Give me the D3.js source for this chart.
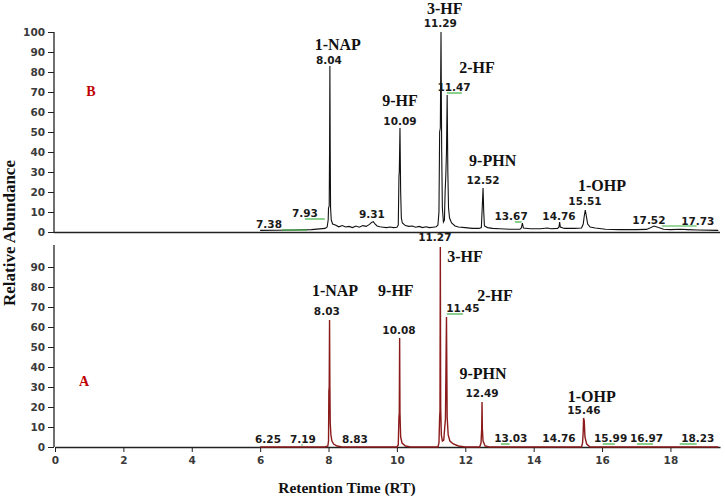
<!DOCTYPE html>
<html>
<head>
<meta charset="utf-8">
<script src="https://cdn.jsdelivr.net/npm/d3@7"></script>
<style>
  body { margin: 0; background: #fff; }
  .tick text { font-family: "DejaVu Sans", sans-serif; font-size: 10.5px; font-weight: bold; fill: #3a3a3a; }
  .axis path, .axis line { stroke: #222; }
</style>
</head>
<body>
<div id="chart"></div>
<script>
var svgWidth = 725;
var svgHeight = 499;

// x axis tick labels and y tick labels
var xTickLabels = [0, 2, 4, 6, 8, 10, 12, 14, 16, 18];
var yTicksTop = [0, 10, 20, 30, 40, 50, 60, 70, 80, 90, 100];
var yTicksBottom = [0, 10, 20, 30, 40, 50, 60, 70, 80, 90];

// trace B (top), [retention time, relative abundance]
var traceB = [
  [6.0,0.8],[6.5,0.9],[7.0,1.0],[7.5,1.2],[7.9,1.8],[7.96,2.5],[7.99,6],[8.0,12],[8.02,13],
  [8.03,40],[8.04,83],[8.05,40],[8.06,12],[8.08,6],[8.12,4],[8.2,3.5],[8.3,2.6],[8.4,3.2],
  [8.5,2.5],[8.6,2.8],[8.7,2.2],[8.8,3],[8.9,2.4],[9.0,3.2],[9.1,2.8],[9.2,3.8],[9.26,4.8],
  [9.31,5.2],[9.36,4],[9.42,3],[9.5,2.6],[9.6,2.4],[9.7,2.2],[9.8,2.5],[9.9,2.2],[10.0,2.4],
  [10.04,3.5],[10.06,28],[10.07,30],[10.09,52],[10.11,20],[10.13,7],[10.16,4.5],[10.25,3.2],
  [10.35,2.8],[10.45,3],[10.55,2.4],[10.65,2.8],[10.75,2.2],[10.85,2.6],[10.95,2.2],[11.05,2.4],
  [11.15,2.6],[11.2,3.5],[11.23,10],[11.25,50],[11.27,52],[11.29,100],[11.31,40],[11.33,12],
  [11.36,5],[11.39,6],[11.41,20],[11.43,28],[11.45,40],[11.47,68.5],[11.49,30],[11.51,12],
  [11.54,7],[11.6,4.5],[11.7,3],[11.8,2.5],[12.0,2.2],[12.2,1.8],[12.4,1.8],[12.47,2.2],
  [12.49,10],[12.5,14],[12.52,22],[12.54,10],[12.56,3],[12.65,2.2],[12.8,1.8],[13.0,1.6],
  [13.3,1.4],[13.6,1.4],[13.64,2],[13.67,4.5],[13.7,2],[13.9,1.6],[14.2,1.6],[14.4,2],
  [14.5,1.6],[14.7,1.8],[14.74,2.5],[14.76,5],[14.78,2.5],[14.9,1.8],[15.2,1.8],[15.4,2],
  [15.45,4],[15.48,8],[15.51,11],[15.54,8],[15.58,4],[15.65,2.5],[15.8,2],[16.1,1.4],
  [16.5,1.2],[17.0,1.2],[17.3,1.3],[17.4,2],[17.52,3],[17.65,2.2],[17.8,1.4],[18.0,1.2],
  [18.3,1.4],[18.5,1.2],[18.8,1],[19.4,0.8]
];

// trace A (bottom)
var traceA = [
  [6.0,0],[7.9,0],[7.98,0.5],[8.0,3],[8.01,28],[8.02,30],[8.03,63.5],[8.04,30],[8.05,12],
  [8.07,6],[8.1,3],[8.15,1.5],[8.25,0.5],[8.4,0],[10.0,0],[10.04,1],[10.06,15],[10.07,17],
  [10.08,54.5],[10.09,17],[10.11,5],[10.15,2],[10.25,0.5],[10.4,0],[11.2,0],[11.23,2],
  [11.25,15],[11.26,18],[11.27,100],[11.28,20],[11.3,6],[11.33,3],[11.37,3.5],[11.4,10],
  [11.42,14],[11.45,65],[11.47,15],[11.5,6],[11.55,3],[11.65,1.5],[11.8,0.5],[12.0,0],
  [12.42,0],[12.46,2],[12.48,9],[12.49,22.5],[12.5,9],[12.52,3],[12.58,0.5],[12.7,0],
  [15.4,0],[15.43,2],[15.45,8],[15.46,14.5],[15.48,13],[15.5,5],[15.55,1.5],[15.65,0],[19.4,0]
];

// retention time labels: text, rt, abundance where the label sits
var rtLabelsB = [
  ["7.38",6.26,3.5],["7.93",7.31,9],["8.04",8.01,85.5],["9.31",9.27,8.5],["10.09",10.09,55],
  ["11.29",11.27,104],["11.47",11.67,72],["12.52",12.52,25.5],["13.67",13.34,7.5],
  ["14.76",14.74,7.5],["15.51",15.5,15],["17.52",17.37,5.6],["17.73",18.8,5]
];
var rtLabelsA = [
  ["6.25",6.23,3.5],["7.19",7.25,3.5],["8.03",7.95,67.5],["8.83",8.77,3.5],["10.08",10.06,58],
  ["11.27",11.11,104.5],["11.45",11.93,69],["12.49",12.49,26.5],["13.03",13.33,4],
  ["14.76",14.74,4],["15.46",15.47,18],["15.99",16.25,4],["16.97",17.3,4],["18.23",18.8,4]
];

// compound names
var compoundsB = [
  ["1-NAP",8.27,93],["9-HF",10.09,65],["3-HF",11.4,111],["2-HF",12.34,81.5],
  ["9-PHN",12.8,35],["1-OHP",16.0,22.5]
];
var compoundsA = [
  ["1-NAP",8.19,77.5],["9-HF",9.97,77.5],["3-HF",11.99,94.5],["2-HF",12.87,75],
  ["9-PHN",12.52,36],["1-OHP",15.7,24.5]
];

// green integration marks: rt start, rt end, abundance
var marksB = [[6.64,7.37,1],[7.31,7.89,6.5],[11.46,11.9,69.5],[13.45,13.65,5],[17.75,18.77,3]];
var marksA = [[11.46,11.93,66.5],[13.04,13.3,1.5],[16.02,16.37,1.5],[17.02,17.49,1.5],[18.27,18.77,1.5],[7.2,7.25,1]];

var svg = d3.select("#chart")
  .append("svg")
  .attr("width", svgWidth)
  .attr("height", svgHeight);

var x = d3.scaleLinear().domain([0, 19.45]).range([55, 720]);
var yTop = d3.scaleLinear().domain([0, 100]).range([232, 32]);
var yBot = d3.scaleLinear().domain([0, 100]).range([447, 247]);

// y axes
function drawY(scale, majors, minorMax, top) {
  var g = svg.append("g").attr("class", "axis").attr("transform", "translate(54,0)");
  g.call(d3.axisLeft(scale).tickValues(d3.range(0, minorMax + 1, 2)).tickSize(4).tickFormat("").tickSizeOuter(0));
  g.call(d3.axisLeft(scale).tickValues(majors).tickSize(6).tickPadding(3).tickSizeOuter(0));
  g.select(".domain").remove();
  g.append("line").attr("x1", 0).attr("x2", 0)
    .attr("y1", scale(0)).attr("y2", top).attr("stroke", "#222").attr("stroke-width", 1.3);
}
drawY(yTop, yTicksTop, 100, 32);
drawY(yBot, yTicksBottom, 98, 245);

// top baseline
svg.append("line")
  .attr("x1", 54).attr("x2", x(19.45))
  .attr("y1", yTop(0) + 0.5).attr("y2", yTop(0) + 0.5)
  .attr("stroke", "#222").attr("stroke-width", 1.5);

// bottom x axis
var xg = svg.append("g").attr("class", "axis").attr("transform", `translate(0, ${yBot(0)})`);
xg.call(d3.axisBottom(x).tickValues(d3.range(0, 19.5, 0.5)).tickSize(4).tickFormat("").tickSizeOuter(0));
xg.call(d3.axisBottom(x).tickValues(xTickLabels).tickSize(5).tickPadding(5).tickFormat(d3.format("d")).tickSizeOuter(0));
xg.select(".domain").attr("stroke-width", 1.5);

// traces
var lineTop = d3.line().x(d => x(d[0])).y(d => yTop(d[1]));
var lineBot = d3.line().x(d => x(d[0])).y(d => yBot(d[1]));

svg.append("path").datum(traceB).attr("d", lineTop)
  .attr("fill", "none").attr("stroke", "#111").attr("stroke-width", 1.1);
svg.append("path").datum(traceA).attr("d", lineBot)
  .attr("fill", "none").attr("stroke", "#8b1a1a").attr("stroke-width", 1.4);

// green marks
function drawMarks(data, scale) {
  svg.append("g").selectAll("line").data(data).enter().append("line")
    .attr("x1", d => x(d[0])).attr("x2", d => x(d[1]))
    .attr("y1", d => scale(d[2])).attr("y2", d => scale(d[2]))
    .attr("stroke", "#3cb043").attr("stroke-width", 1.2);
}
drawMarks(marksB, yTop);
drawMarks(marksA, yBot);

// rt labels
function drawRt(data, scale) {
  svg.append("g").selectAll("text").data(data).enter().append("text")
    .attr("x", d => x(d[1])).attr("y", d => scale(d[2]))
    .attr("text-anchor", "middle").attr("dominant-baseline", "middle")
    .attr("font-family", "DejaVu Sans, sans-serif").attr("font-weight", "bold")
    .attr("font-size", "10.5px").attr("fill", "#1a1a1a")
    .text(d => d[0]);
}
drawRt(rtLabelsB, yTop);
drawRt(rtLabelsA, yBot);

// compound names
function drawNames(data, scale) {
  svg.append("g").selectAll("text").data(data).enter().append("text")
    .attr("x", d => x(d[1])).attr("y", d => scale(d[2]))
    .attr("text-anchor", "middle").attr("dominant-baseline", "middle")
    .attr("font-family", "Liberation Serif, serif").attr("font-weight", "bold")
    .attr("font-size", "16px").attr("fill", "#111")
    .text(d => d[0]);
}
drawNames(compoundsB, yTop);
drawNames(compoundsA, yBot);

// panel letters
svg.append("text").attr("x", x(1.05)).attr("y", yTop(69.5))
  .attr("text-anchor", "middle").attr("dominant-baseline", "middle")
  .attr("font-family", "Liberation Serif, serif").attr("font-weight", "bold")
  .attr("font-size", "14px").attr("fill", "#c00000").text("B");
svg.append("text").attr("x", x(0.85)).attr("y", yBot(32))
  .attr("text-anchor", "middle").attr("dominant-baseline", "middle")
  .attr("font-family", "Liberation Serif, serif").attr("font-weight", "bold")
  .attr("font-size", "14px").attr("fill", "#c00000").text("A");

// axis titles
svg.append("text")
  .attr("x", 347).attr("y", 489)
  .attr("text-anchor", "middle").attr("dominant-baseline", "middle")
  .attr("font-family", "Liberation Serif, serif").attr("font-weight", "bold")
  .attr("font-size", "15.5px").attr("fill", "#111")
  .text("Retention Time (RT)");

svg.append("text")
  .attr("transform", "translate(11, 233) rotate(-90)")
  .attr("text-anchor", "middle").attr("dominant-baseline", "middle")
  .attr("font-family", "Liberation Serif, serif").attr("font-weight", "bold")
  .attr("font-size", "17px").attr("fill", "#111")
  .text("Relative Abundance");
</script>
</body>
</html>
